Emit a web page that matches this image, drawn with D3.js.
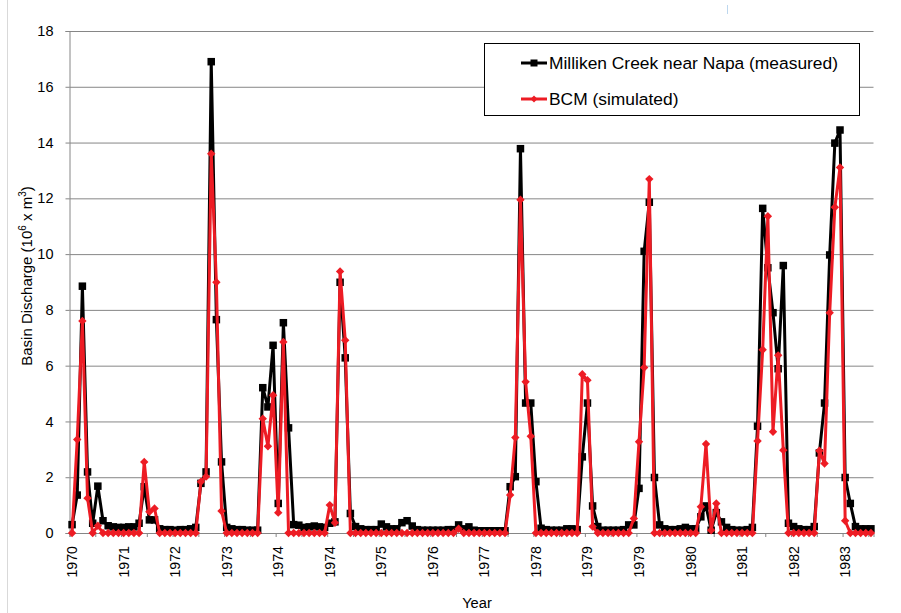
<!DOCTYPE html>
<html>
<head>
<meta charset="utf-8">
<script src="https://cdn.jsdelivr.net/npm/d3@7/dist/d3.min.js"></script>
<style>
  body { margin: 0; background: #fff; }
  text { font-family: "Liberation Sans", Arial, sans-serif; fill: #000; }
</style>
</head>
<body>
<div id="chart"></div>
<script>
// monthly basin discharge, first month is Oct 1970 (water years 1971-1983)
var startYear = 1970, startMonth = 9;

var measured = [
  0.3, 1.36, 8.85, 2.19, 0.35, 1.68, 0.44, 0.26, 0.22, 0.2, 0.2, 0.22,
  0.22, 0.35, 1.66, 0.47, 0.47, 0.15, 0.12, 0.12, 0.1, 0.12, 0.12, 0.15,
  0.2, 1.78, 2.19, 16.9, 7.65, 2.55, 0.2, 0.15, 0.12, 0.12, 0.1, 0.1,
  0.1, 5.21, 4.52, 6.73, 1.06, 7.54, 3.77, 0.3, 0.28, 0.2, 0.22, 0.25,
  0.22, 0.2, 0.35, 0.4, 8.99, 6.28, 0.7, 0.23, 0.15, 0.12, 0.12, 0.12,
  0.32, 0.22, 0.15, 0.15, 0.37, 0.44, 0.25, 0.12, 0.1, 0.1, 0.1, 0.1,
  0.1, 0.12, 0.12, 0.29, 0.15, 0.22, 0.1, 0.08, 0.08, 0.08, 0.08, 0.08,
  0.08, 1.66, 2.02, 13.78, 4.66, 4.66, 1.84, 0.17, 0.12, 0.1, 0.1, 0.1,
  0.15, 0.15, 0.12, 2.73, 4.66, 0.97, 0.23, 0.1, 0.1, 0.1, 0.1, 0.12,
  0.29, 0.29, 1.6, 10.1, 11.86, 1.99, 0.29, 0.15, 0.12, 0.12, 0.15, 0.2,
  0.15, 0.15, 0.58, 0.97, 0.1, 0.73, 0.4, 0.2, 0.12, 0.1, 0.1, 0.12,
  0.2, 3.83, 11.64, 9.51, 7.9, 5.89, 9.59, 0.35, 0.23, 0.15, 0.12, 0.12,
  0.23, 2.87, 4.66, 9.97, 13.98, 14.45, 1.99, 1.06, 0.23, 0.15, 0.15, 0.15
];

var simulated = [
  0, 3.35, 7.6, 1.25, 0, 0.26, 0, 0, 0, 0, 0, 0,
  0, 0, 2.55, 0.76, 0.88, 0, 0, 0, 0, 0, 0, 0,
  0, 1.84, 2.02, 13.6, 8.99, 0.79, 0, 0, 0, 0, 0, 0,
  0, 4.1, 3.11, 4.94, 0.73, 6.85, 0, 0, 0, 0, 0, 0,
  0, 0, 1.0, 0.37, 9.38, 6.91, 0, 0, 0, 0, 0, 0,
  0, 0, 0, 0, 0, 0, 0, 0, 0, 0, 0, 0,
  0, 0, 0, 0.15, 0, 0, 0, 0, 0, 0, 0, 0,
  0, 1.36, 3.42, 11.95, 5.42, 3.47, 0, 0, 0, 0, 0, 0,
  0, 0, 0, 5.69, 5.48, 0.23, 0, 0, 0, 0, 0, 0,
  0, 0.52, 3.27, 5.93, 12.69, 0, 0, 0, 0, 0, 0, 0,
  0, 0, 0.94, 3.19, 0.1, 1.06, 0, 0, 0, 0, 0, 0,
  0, 3.3, 6.57, 11.36, 3.63, 6.37, 2.97, 0, 0, 0, 0, 0,
  0, 2.95, 2.49, 7.9, 11.68, 13.11, 0.44, 0, 0, 0, 0, 0
];

var seriesNames = ["Milliken Creek near Napa (measured)", "BCM (simulated)"];
var yTicks = [0, 2, 4, 6, 8, 10, 12, 14, 16, 18];
var labelEvery = 10, tickEvery = 5;

// one category per month
var months = measured.map(function(d, i) {
  var m = startMonth + i;
  return new Date(startYear + Math.floor(m / 12), m % 12, 1);
});

// set the dimensions and margins of the graph
var margin = {top: 31, right: 27.5, bottom: 80, left: 69.5},
    width = 901 - margin.left - margin.right,
    height = 613 - margin.top - margin.bottom;

var x = d3.scaleBand().domain(d3.range(months.length)).range([0, width]);
var xEdge = d3.scaleLinear().domain([0, months.length]).range([0, width]);
var y = d3.scaleLinear().domain([0, 18]).range([height, 0]);

var root = d3.select("#chart").append("svg")
    .attr("width", 901)
    .attr("height", 613);

root.append("rect")
    .attr("width", 901).attr("height", 613)
    .attr("fill", "#fff");

// chart area edge
root.append("line")
    .attr("x1", 7.5).attr("x2", 7.5)
    .attr("y1", 0).attr("y2", 613)
    .attr("stroke", "#d9d9d9");
root.append("line")
    .attr("x1", 727.5).attr("x2", 727.5)
    .attr("y1", 5).attr("y2", 14)
    .attr("stroke", "#bdd7ee");

var svg = root.append("g")
    .attr("transform", "translate(" + margin.left + "," + margin.top + ")");

// gridlines
svg.append("g")
    .call(d3.axisLeft(y).tickValues(yTicks).tickSize(-width).tickFormat(""))
    .call(function(g) { g.select(".domain").remove(); })
    .selectAll("line")
    .attr("stroke", "#868686");

// y axis
var yAxis = svg.append("g")
    .call(d3.axisLeft(y).tickValues(yTicks).tickSize(4).tickPadding(12));
yAxis.select(".domain").attr("stroke", "#868686");
yAxis.selectAll("line").attr("stroke", "#868686");
yAxis.selectAll("text")
    .style("font-size", "14.5px")
    .style("font-family", "'Liberation Sans', Arial, sans-serif");

// x axis tick marks at month boundaries
var xTicks = svg.append("g")
    .attr("transform", "translate(0," + height + ")")
    .call(d3.axisBottom(xEdge)
      .tickValues(d3.range(0, months.length + 1, tickEvery))
      .tickSize(4).tickFormat(""));
xTicks.select(".domain").attr("stroke", "#868686");
xTicks.selectAll("line").attr("stroke", "#868686");

// x axis year labels
var xLabels = svg.append("g")
    .attr("transform", "translate(0," + height + ")")
    .call(d3.axisBottom(x)
      .tickValues(d3.range(0, months.length, labelEvery))
      .tickSize(0)
      .tickFormat(function(i) { return months[i].getFullYear(); }));
xLabels.select(".domain").remove();
xLabels.selectAll("text")
    .attr("transform", "rotate(-90)")
    .attr("text-anchor", "end")
    .attr("x", -13)
    .attr("y", 0)
    .attr("dy", "0.35em")
    .style("font-size", "14.2px")
    .style("font-family", "'Liberation Sans', Arial, sans-serif");

var cx = function(d, i) { return x(i) + x.bandwidth() / 2; };

var line = d3.line()
    .x(cx)
    .y(function(d) { return y(d); });

// measured series
svg.append("path")
    .datum(measured)
    .attr("d", line)
    .attr("fill", "none")
    .attr("stroke", "#000")
    .attr("stroke-width", 3)
    .attr("stroke-linejoin", "round");

svg.selectAll(".sq")
    .data(measured)
    .enter()
    .append("rect")
    .attr("class", "sq")
    .attr("x", function(d, i) { return cx(d, i) - 3.75; })
    .attr("y", function(d) { return y(d) - 3.75; })
    .attr("width", 7.5)
    .attr("height", 7.5)
    .attr("fill", "#000");

// simulated series
var red = "#ed1c24";
svg.append("path")
    .datum(simulated)
    .attr("d", line)
    .attr("fill", "none")
    .attr("stroke", red)
    .attr("stroke-width", 3)
    .attr("stroke-linejoin", "round");

var diamond = "M0,-4.2L4.2,0L0,4.2L-4.2,0Z";
svg.selectAll(".dm")
    .data(simulated)
    .enter()
    .append("path")
    .attr("class", "dm")
    .attr("d", diamond)
    .attr("transform", function(d, i) {
      return "translate(" + cx(d, i) + "," + y(d) + ")";
    })
    .attr("fill", red);

// axis titles
root.append("text")
    .attr("x", 477)
    .attr("y", 608)
    .attr("text-anchor", "middle")
    .style("font-size", "14.7px")
    .text("Year");

var ylab = root.append("text")
    .attr("transform", "translate(32,276) rotate(-90)")
    .attr("text-anchor", "middle")
    .style("font-size", "15px");
ylab.append("tspan").text("Basin Discharge (10");
ylab.append("tspan").attr("dy", -6).style("font-size", "10px").text("6");
ylab.append("tspan").attr("dy", 6).text(" x m");
ylab.append("tspan").attr("dy", -6).style("font-size", "10px").text("3");
ylab.append("tspan").attr("dy", 6).text(")");

// legend
var legend = root.append("g");
legend.append("rect")
    .attr("x", 484.5).attr("y", 43.5)
    .attr("width", 375).attr("height", 72)
    .attr("fill", "#fff")
    .attr("stroke", "#000");

var rows = legend.selectAll(".row")
    .data(seriesNames)
    .enter()
    .append("g")
    .attr("transform", function(d, i) { return "translate(0," + (i ? 99 : 63) + ")"; });

rows.append("line")
    .attr("x1", 521).attr("x2", 547)
    .attr("stroke", function(d, i) { return i ? red : "#000"; })
    .attr("stroke-width", 3);

rows.append("path")
    .attr("d", function(d, i) { return i ? "M534,-3.5L537.5,0L534,3.5L530.5,0Z" : "M530.5,-3.5H537.5V3.5H530.5Z"; })
    .attr("fill", function(d, i) { return i ? red : "#000"; });

rows.append("text")
    .attr("x", 549)
    .attr("y", 6.3)
    .style("font-size", "17.4px")
    .text(function(d) { return d; });
</script>
</body>
</html>
